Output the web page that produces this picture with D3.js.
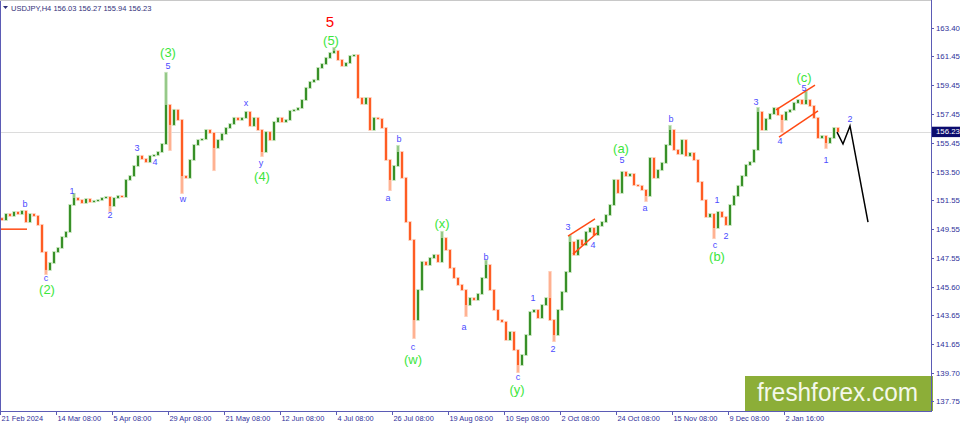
<!DOCTYPE html>
<html><head><meta charset="utf-8">
<script src="https://cdn.jsdelivr.net/npm/d3@7"></script>
<style>
body{margin:0;background:#fff}
svg{display:block}
text{font-family:"Liberation Sans",Arial,sans-serif}
</style>
</head><body>
<svg id="c" width="960" height="425"></svg>
<script>
// ---------------- DATA ----------------
const symbol = "USDJPY,H4";
const lastQuote = [156.03, 156.27, 155.94, 156.23];
const firstOpen = 150.30;
const closes = [
150.18,150.59,150.46,150.73,150.59,150.80,150.04,150.59,150.46,149.84,
147.98,146.75,147.23,147.98,148.26,149.01,149.36,151.21,151.69,151.55,
151.35,151.62,151.42,151.49,151.55,151.69,151.76,151.14,151.69,151.83,
151.76,152.93,153.20,153.89,154.58,154.37,154.16,154.58,154.64,154.85,
155.40,158.08,156.71,157.74,157.05,153.20,153.07,154.30,155.33,155.67,
155.74,156.36,156.16,155.13,155.67,156.09,156.50,156.77,157.19,157.05,
157.19,157.60,156.64,157.19,156.36,154.85,156.22,155.67,156.91,157.19,
156.91,157.05,157.67,157.74,157.87,158.42,159.25,159.66,159.80,160.62,
160.89,161.31,161.65,161.79,161.17,160.76,160.96,161.44,161.51,158.56,
158.15,158.56,156.36,157.19,157.12,156.50,154.30,152.93,153.89,154.85,
153.07,150.04,148.81,143.31,145.37,147.30,147.09,147.57,147.78,147.30,
148.94,148.12,146.88,146.20,145.72,145.37,144.34,144.82,144.69,145.10,
146.20,147.09,145.37,144.00,143.31,143.18,141.94,142.49,141.25,140.22,
140.91,142.28,143.86,144.00,143.45,144.34,144.82,143.31,142.28,144.00,
145.24,146.61,148.67,147.78,148.81,148.46,149.36,149.63,149.15,149.77,
150.04,150.52,151.21,152.93,152.04,153.48,153.20,153.34,152.58,152.52,
152.24,151.83,154.44,153.07,153.61,154.10,155.33,156.36,154.99,154.71,
155.67,154.58,154.78,154.30,152.79,151.55,150.39,150.59,149.63,150.73,
150.39,149.84,151.21,151.83,152.52,153.20,153.96,154.16,154.99,157.60,
156.36,157.12,157.46,157.87,157.39,157.05,157.60,157.74,158.22,158.42,
158.15,158.42,158.01,157.19,155.81,155.95,155.47,155.81,156.50,156.23
];
// sparse wick extremes [candle index, price]
const wickHighs = [[18,151.97],[41,160.28],[83,161.99],[99,155.26],[110,149.36],[121,147.40],
  [137,146.61],[142,149.08],[167,156.64],[189,157.87],[201,158.97]];
const wickLows = [[11,146.47],[27,150.80],[42,154.99],[45,152.04],[53,153.61],[65,154.58],
  [97,152.24],[103,142.08],[116,143.59],[129,139.74],[138,141.87],[161,151.49],[178,148.94],
  [195,156.22],[206,155.13]];

const timeLabels = ["21 Feb 2024","14 Mar 08:00","5 Apr 08:00","29 Apr 08:00","21 May 08:00",
  "12 Jun 08:00","4 Jul 08:00","26 Jul 08:00","19 Aug 08:00","10 Sep 08:00","2 Oct 08:00",
  "24 Oct 08:00","15 Nov 08:00","9 Dec 08:00","2 Jan 16:00"];
const timeLabelIdx = [-0.5,13.5,27.5,41.5,55.5,69.5,83.5,97.5,111.5,125.5,139.5,153.5,167.5,181.5,195.5];
const priceTicks = [163.40,161.45,159.45,157.45,155.45,153.50,151.55,149.55,147.55,145.60,143.65,141.65,139.70,137.75];

const projection = [[208.75,156.22],[210.25,155.40],[212,156.64],[216.5,150.04]];
const trendLines = [
  [[-0.5,149.55],[6.25,149.55]],
  [[141.5,149.08],[148.25,150.25]],
  [[142.75,147.84],[148.75,149.29]],
  [[193.5,157.74],[203.25,159.45]],
  [[194.25,155.88],[204,157.67]]
];
// wave labels: [text, index, price, degree]
const waveLabels = [
  ["b",5.75,151.28,"m"],["c",11,146.20,"m"],["(2)",11.25,145.44,"M"],
  ["1",17.5,152.17,"m"],["2",27,150.52,"m"],["3",33.75,155.13,"m"],["4",38.25,154.16,"m"],
  ["5",41.5,160.76,"m"],["(3)",41.5,161.65,"M"],["w",45.25,151.62,"m"],
  ["x",61,158.22,"m"],["y",64.75,154.10,"m"],["(4)",65,153.20,"M"],
  ["(5)",82.25,162.54,"M"],["5",82,163.78,"P"],
  ["a",96.5,151.69,"m"],["b",99.25,155.74,"m"],["c",102.75,141.45,"m"],["(w)",102.75,140.58,"M"],
  ["(x)",110,149.91,"M"],["a",115.5,142.83,"m"],["b",121,147.64,"m"],["c",129,139.40,"m"],
  ["(y)",128.75,138.57,"M"],["1",132.75,144.82,"m"],["2",137.75,141.32,"m"],["3",141.5,149.70,"m"],
  ["4",147.75,148.46,"m"],["5",155,154.30,"m"],["(a)",154.75,155.06,"M"],["a",160.75,151.00,"m"],
  ["b",167.25,157.12,"m"],["1",178.75,151.55,"m"],["c",178.25,148.46,"m"],["(b)",178.75,147.64,"M"],
  ["2",181,149.08,"m"],["3",188.5,158.28,"m"],["4",194.5,155.61,"m"],["5",200.5,159.25,"m"],
  ["(c)",200.5,160.00,"M"],["1",206,154.30,"m"],["2",212,157.12,"m"]
];

// ---------------- CHART ----------------
const svg = d3.select("#c");
const L = 1, R = 931, T = 0, B = 411;
const x = d3.scaleLinear().domain([-0.5, 232.25]).range([0, 931]);
const y = d3.scaleLinear().domain([137.75, 163.40]).range([401, 27.5]);

const candles = closes.map((c, i) => {
  const o = i === 0 ? firstOpen : closes[i - 1];
  let h = Math.max(o, c), l = Math.min(o, c);
  return {i, o, c, h, l};
});
wickHighs.forEach(([i, p]) => { candles[i].h = Math.max(candles[i].h, p); });
wickLows.forEach(([i, p]) => { candles[i].l = Math.min(candles[i].l, p); });

const plot = svg.append("g");
// current price line
plot.append("line").attr("x1", L).attr("x2", R)
  .attr("y1", Math.round(y(lastQuote[3])) + 0.5).attr("y2", Math.round(y(lastQuote[3])) + 0.5)
  .attr("stroke", "#dcdcdc").attr("stroke-width", 1);

// candle halos / wicks
plot.selectAll(".halo").data(candles).join("line")
  .attr("x1", d => x(d.i)).attr("x2", d => x(d.i))
  .attr("y1", d => y(d.h) - 1).attr("y2", d => y(d.l) + 1)
  .attr("stroke", d => d.c >= d.o ? "#c2e2b8" : "#ffcdb8")
  .attr("stroke-width", 3.4);
plot.selectAll(".wick").data(candles).join("line")
  .attr("x1", d => x(d.i)).attr("x2", d => x(d.i))
  .attr("y1", d => y(d.h)).attr("y2", d => y(d.l))
  .attr("stroke", d => d.c >= d.o ? "#6ab05a" : "#ff956a")
  .attr("stroke-width", 1);
plot.selectAll(".body").data(candles).join("rect")
  .attr("x", d => x(d.i) - 0.9).attr("width", 1.8)
  .attr("y", d => y(Math.max(d.o, d.c)))
  .attr("height", d => Math.max(1, Math.abs(y(d.o) - y(d.c))))
  .attr("fill", d => d.c >= d.o ? "#2e8a1e" : "#ff5418");

// trend lines
const lineGen = d3.line().x(d => x(d[0])).y(d => y(d[1]));
trendLines.forEach(tl => {
  plot.append("path").attr("d", lineGen(tl)).attr("fill", "none")
    .attr("stroke", "#ff4a14").attr("stroke-width", 1.5);
});
plot.append("path").attr("d", lineGen(projection)).attr("fill", "none")
  .attr("stroke", "#000").attr("stroke-width", 1.5).attr("stroke-linejoin", "miter");

// wave labels
const styles = {
  m: {size: 9, color: "#4b4bff"},
  M: {size: 13, color: "#3ce63c"},
  P: {size: 15, color: "#ff0000"}
};
plot.selectAll(".wl").data(waveLabels).join("text")
  .attr("x", d => x(d[1])).attr("y", d => y(d[2]))
  .attr("text-anchor", "middle").attr("dominant-baseline", "central")
  .attr("font-size", d => styles[d[3]].size)
  .attr("fill", d => styles[d[3]].color)
  .text(d => d[0]);

// logo
const logo = svg.append("g");
logo.append("rect").attr("x", 745).attr("y", 376).attr("width", 188).attr("height", 35).attr("fill", "#8cae38");
logo.append("text").attr("x", 757).attr("y", 401).attr("font-family", "'Open Sans',sans-serif")
  .attr("font-size", 25).attr("fill", "#f4f8ea").attr("textLength", 161).attr("lengthAdjust", "spacingAndGlyphs")
  .text("freshforex.com");

// frame
const axisColor = "#5b5bb5";
svg.append("line").attr("x1", 0.5).attr("x2", 0.5).attr("y1", 0).attr("y2", B).attr("stroke", axisColor);
svg.append("line").attr("x1", 0).attr("x2", R).attr("y1", 0.5).attr("y2", 0.5).attr("stroke", "#c8c8c8");
svg.append("line").attr("x1", R + 0.5).attr("x2", R + 0.5).attr("y1", 0).attr("y2", B + 1).attr("stroke", axisColor);
svg.append("line").attr("x1", 0).attr("x2", R + 1).attr("y1", B + 0.5).attr("y2", B + 0.5).attr("stroke", axisColor);

// y axis
const yAxis = svg.append("g");
priceTicks.forEach(p => {
  const yy = Math.round(y(p)) + 0.5;
  yAxis.append("line").attr("x1", R).attr("x2", R + 3).attr("y1", yy).attr("y2", yy).attr("stroke", axisColor);
  yAxis.append("text").attr("x", 936).attr("y", yy).attr("dominant-baseline", "central")
    .attr("font-size", 7.8).attr("fill", "#30309a").text(p.toFixed(2));
});
const yl = y(lastQuote[3]);
yAxis.append("rect").attr("x", 932).attr("y", yl - 5.2).attr("width", 28).attr("height", 10.4).attr("fill", "#0b0b6e");
yAxis.append("text").attr("x", 936).attr("y", yl).attr("dominant-baseline", "central")
  .attr("font-size", 7.8).attr("fill", "#fff").text(lastQuote[3].toFixed(2));

// x axis
const xAxis = svg.append("g");
timeLabels.forEach((t, k) => {
  const xx = Math.round(x(timeLabelIdx[k])) + 0.5;
  xAxis.append("line").attr("x1", xx).attr("x2", xx).attr("y1", B).attr("y2", B + 4).attr("stroke", axisColor);
  xAxis.append("text").attr("x", xx + 1).attr("y", 418).attr("dominant-baseline", "central")
    .attr("font-size", 7.4).attr("fill", "#30309a").text(t);
});

// title
svg.append("path").attr("d", "M3,6 L8,6 L5.5,9 Z").attr("fill", "#30307a");
svg.append("text").attr("x", 11).attr("y", 8).attr("dominant-baseline", "central")
  .attr("font-size", 7.5).attr("fill", "#30307a")
  .text(symbol + "  " + lastQuote.map(v => v.toFixed(2)).join(" "));
</script>
</body></html>
